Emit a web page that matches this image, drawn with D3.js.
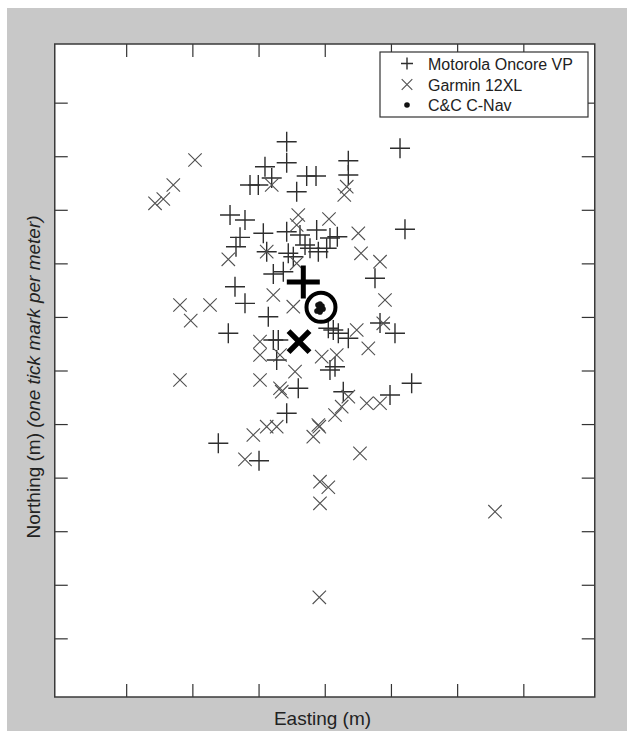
<!DOCTYPE html>
<html lang="en">
<head>
<meta charset="UTF-8">
<title>Easting / Northing scatter</title>
<script src="https://d3js.org/d3.v7.min.js"></script>
<style>
    body { margin: 0; background: #fff; }
    svg { display: block; font-family: "Liberation Sans", Arial, sans-serif; }
    .axis path { display: none; }
    .axis line { stroke: #333; stroke-width: 1.2px; }
    .plus { stroke: #2e2e2e; stroke-width: 1.4px; }
    .cross { stroke: #505050; stroke-width: 1.1px; }
</style>
</head>
<body>
<svg id="chart" width="633" height="738"></svg>
<script>
// positions in meters
const motorolaE = [-0.575,-0.575,-0.903,-1.129,-1.004,-0.801,-0.424,-0.273,-0.132,0.356,0.356,1.137,
    -1.431,-1.205,-0.928,-1.280,-1.341,-0.877,-0.575,-0.374,-0.122,0.079,0.190,-0.298,-0.223,-0.097,0.029,
    -0.475,-0.626,-0.777,1.212,0.759,-1.356,-1.205,-1.457,-0.853,-0.777,-0.702,-0.726,-0.400,-0.575,
    0.054,0.129,0.205,0.356,0.079,0.155,1.061,1.313,0.986,0.280,-1.608,-0.993,0.835,-0.551];
const motorolaN = [4.271,3.879,3.804,3.463,3.463,3.593,3.338,3.631,3.631,3.916,3.649,4.148,
    2.903,2.809,2.561,2.486,2.311,2.218,2.591,2.529,2.623,2.473,2.498,2.343,2.281,2.218,2.281,
    2.124,1.844,1.801,2.636,1.721,1.564,1.254,0.694,1.004,0.569,0.569,0.196,-0.332,-0.799,
    0.788,0.756,0.694,0.601,0.009,0.071,0.694,-0.239,-0.457,-0.396,-1.359,-1.684,0.887,2.188];

const garminE = [-1.960,-2.288,-2.439,-2.564,-0.801,0.332,0.295,-0.400,-0.424,0.064,0.507,0.548,0.835,
    -1.457,-0.877,-0.424,-2.187,-1.733,-2.025,-0.777,-0.475,-0.978,-0.978,-0.676,-0.449,-2.187,-0.978,
    -0.676,-0.650,-0.877,-0.726,-0.046,0.910,0.884,0.483,0.658,0.181,0.634,0.835,0.356,0.256,0.155,
    -0.097,-1.079,-1.205,-0.173,-0.082,0.532,-0.072,0.054,-0.072,2.572,-0.082];
const garminN = [3.929,3.463,3.201,3.121,3.463,3.431,3.276,2.903,2.716,2.828,2.561,2.188,2.031,
    2.076,2.218,2.001,1.223,1.223,0.930,1.409,1.191,0.538,0.289,0.289,-0.022,-0.177,-0.177,
    -0.332,-0.396,-1.049,-1.049,0.258,1.316,0.881,0.756,0.414,0.289,-0.612,-0.612,-0.489,-0.676,-0.831,
    -1.017,-1.204,-1.658,-1.236,-1.049,-1.546,-2.076,-2.180,-2.479,-2.636,-4.234];

const cnavE = [-0.102,-0.072,-0.042,-0.087,-0.057,-0.117,-0.026,-0.072];
const cnavN = [1.223,1.241,1.204,1.148,1.129,1.111,1.148,1.092];

// mean positions (bold markers)
const meanMotorola = [-0.324, 1.652];
const meanGarmin = [-0.389, 0.538];
const meanCnav = [-0.057, 1.180];

const eastTicks = [-3, -2, -1, 0, 1, 2, 3];
const northTicks = [-5, -4, -3, -2, -1, 0, 1, 2, 3, 4, 5];
const legendNames = ['Motorola Oncore VP', 'Garmin 12XL', 'C&C C-Nav'];

const svg = d3.select('#chart');
const plotL = 54.75, plotR = 594.75, plotT = 44, plotB = 697;

svg.append('rect').attr('x', 7).attr('y', 8).attr('width', 620).attr('height', 723)
    .attr('fill', '#c8c8c8');
svg.append('rect').attr('x', plotL).attr('y', plotT).attr('width', plotR - plotL).attr('height', plotB - plotT)
    .attr('fill', '#fff');

const x = d3.scaleLinear().domain([-4.079, 4.079]).range([plotL, plotR]);
const y = d3.scaleLinear().domain([-6.095, 6.095]).range([plotB, plotT]);

// ticks inward on all four sides, no labels
const tick = 13;
svg.append('g').attr('class', 'axis').attr('transform', `translate(0,${plotB})`)
    .call(d3.axisBottom(x).tickValues(eastTicks).tickSize(-tick).tickSizeOuter(0).tickFormat(''));
svg.append('g').attr('class', 'axis').attr('transform', `translate(0,${plotT})`)
    .call(d3.axisTop(x).tickValues(eastTicks).tickSize(-tick).tickSizeOuter(0).tickFormat(''));
svg.append('g').attr('class', 'axis').attr('transform', `translate(${plotL},0)`)
    .call(d3.axisLeft(y).tickValues(northTicks).tickSize(-tick).tickSizeOuter(0).tickFormat(''));
svg.append('g').attr('class', 'axis').attr('transform', `translate(${plotR},0)`)
    .call(d3.axisRight(y).tickValues(northTicks).tickSize(-tick).tickSizeOuter(0).tickFormat(''));

function plusPath(r) { return `M${-r},0H${r}M0,${-r}V${r}`; }
function crossPath(r) { return `M${-r},${-r}L${r},${r}M${-r},${r}L${r},${-r}`; }

const plot = svg.append('g');

plot.selectAll('.plus').data(d3.zip(motorolaE, motorolaN)).enter().append('path')
    .attr('class', 'plus')
    .attr('d', plusPath(10))
    .attr('transform', d => `translate(${x(d[0])},${y(d[1])})`);

plot.selectAll('.cross').data(d3.zip(garminE, garminN)).enter().append('path')
    .attr('class', 'cross')
    .attr('d', crossPath(6.7))
    .attr('fill', 'none')
    .attr('transform', d => `translate(${x(d[0])},${y(d[1])})`);

plot.selectAll('.dot').data(d3.zip(cnavE, cnavN)).enter().append('circle')
    .attr('cx', d => x(d[0])).attr('cy', d => y(d[1])).attr('r', 2.8)
    .attr('fill', '#111');

// bold mean markers
plot.append('path').attr('d', plusPath(16.5))
    .attr('transform', `translate(${x(meanMotorola[0])},${y(meanMotorola[1])})`)
    .attr('stroke', '#000').attr('stroke-width', 5);
plot.append('path').attr('d', crossPath(10.5))
    .attr('transform', `translate(${x(meanGarmin[0])},${y(meanGarmin[1])})`)
    .attr('stroke', '#000').attr('stroke-width', 5.5);
plot.append('circle').attr('cx', x(meanCnav[0])).attr('cy', y(meanCnav[1])).attr('r', 14.5)
    .attr('fill', 'none').attr('stroke', '#000').attr('stroke-width', 4);

// frame
svg.append('rect').attr('x', plotL).attr('y', plotT).attr('width', plotR - plotL).attr('height', plotB - plotT)
    .attr('fill', 'none').attr('stroke', '#3a3a3a').attr('stroke-width', 1.5);

// legend
const lg = svg.append('g').attr('transform', 'translate(380,52)');
lg.append('rect').attr('width', 208).attr('height', 65)
    .attr('fill', '#fff').attr('stroke', '#333').attr('stroke-width', 1.2);
const rowY = [11.5, 32.5, 53];
lg.append('path').attr('d', plusPath(6)).attr('class', 'plus')
    .attr('transform', `translate(27,${rowY[0]})`);
lg.append('path').attr('d', crossPath(5.3)).attr('class', 'cross')
    .attr('transform', `translate(27,${rowY[1]})`);
lg.append('circle').attr('cx', 27).attr('cy', rowY[2]).attr('r', 2.8).attr('fill', '#111');
lg.selectAll('text').data(legendNames).enter().append('text')
    .attr('x', 48).attr('y', (d, i) => rowY[i] + 6)
    .attr('font-size', 16).attr('fill', '#222')
    .text(d => d);

// axis titles
svg.append('text').attr('x', 322.5).attr('y', 725).attr('text-anchor', 'middle')
    .attr('font-size', 19).attr('fill', '#222').text('Easting (m)');
const yl = svg.append('text').attr('text-anchor', 'middle')
    .attr('transform', 'translate(40,377) rotate(-90)')
    .attr('font-size', 19).attr('fill', '#222');
yl.append('tspan').text('Northing (m) ');
yl.append('tspan').attr('font-style', 'italic').text('(one tick mark per meter)');
</script>
</body>
</html>
